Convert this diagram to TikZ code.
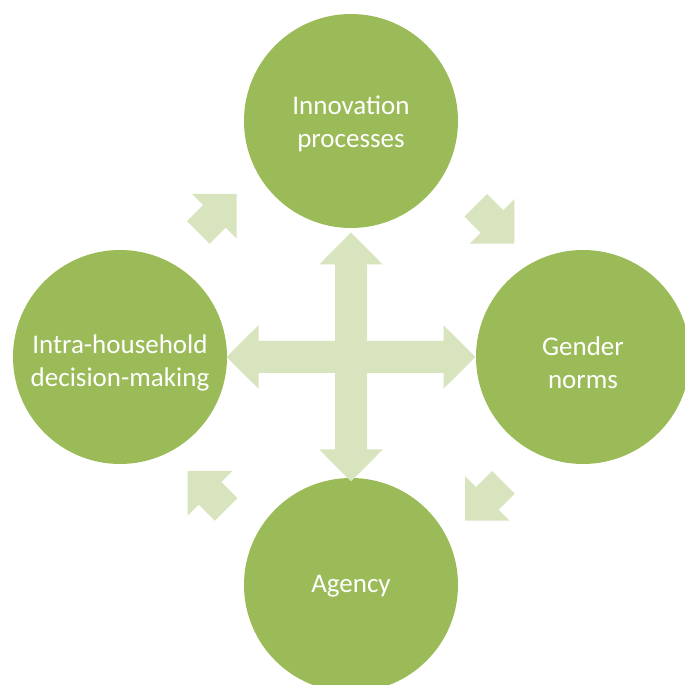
\documentclass[tikz,border=0pt]{standalone}
\usepackage{fontspec}
\setmainfont{Carlito}
\definecolor{leaf}{HTML}{9BBB59}
\definecolor{paleleaf}{HTML}{D7E4BD}
\tikzset{
	circ/.style={circle, fill=leaf, minimum size=214pt, inner sep=0pt},
	txt/.style={text=white, align=center, font=\fontsize{27}{33}\selectfont},
	pale/.style={fill=paleleaf}
}
\begin{document}
\begin{tikzpicture}[x=1pt,y=1pt]
		\useasboundingbox (0,0) rectangle (685,685);
		\node[circ] (inno) at (351,564) {};
		\node[circ] (gender) at (583,328) {};
		\node[circ] (agency) at (351,100) {};
		\node[circ] (intra) at (120,328) {};
		\node[txt] (innotext) at ([yshift=-3]inno) {Innovation\\processes};
		\node[txt] (gendertext) at ([yshift=-6]gender) {Gender\\norms};
		\node[txt] (agencytext) at ([yshift=-1]agency) {Agency};
		\node[txt] (intratext) at ([yshift=-6]intra) {Intra-household\\decision-making};
		\coordinate (mid) at (351,328);
		\fill[pale,shift={(mid)}] (124.5,0) -- (92.5,31.7) -- (92.5,16) -- (16,16) -- (16,92.5) -- (31.7,92.5) -- (0,124.5) -- (-31.7,92.5) -- (-16,92.5) -- (-16,16) -- (-92.5,16) -- (-92.5,31.7) -- (-124.5,0) -- (-92.5,-31.7) -- (-92.5,-16) -- (-16,-16) -- (-16,-92.5) -- (-31.7,-92.5) -- (0,-124.5) -- (31.7,-92.5) -- (16,-92.5) -- (16,-16) -- (92.5,-16) -- (92.5,-31.7) -- cycle;
		\fill[pale,shift={(236.7,491)},rotate=45] (0,0) -- (-31.6,31.6) -- (-31.6,16) -- (-54.4,16) -- (-54.4,-16) -- (-31.6,-16) -- (-31.6,-31.6) -- cycle;
		\fill[pale,shift={(514.3,441.3)},rotate=-45] (0,0) -- (-31.6,31.6) -- (-31.6,16) -- (-54.4,16) -- (-54.4,-16) -- (-31.6,-16) -- (-31.6,-31.6) -- cycle;
		\fill[pale,shift={(465,164.3)},rotate=-135] (0,0) -- (-31.6,31.6) -- (-31.6,16) -- (-54.4,16) -- (-54.4,-16) -- (-31.6,-16) -- (-31.6,-31.6) -- cycle;
		\fill[pale,shift={(187.7,214)},rotate=135] (0,0) -- (-31.6,31.6) -- (-31.6,16) -- (-54.4,16) -- (-54.4,-16) -- (-31.6,-16) -- (-31.6,-31.6) -- cycle;
	\end{tikzpicture}
\end{document}
